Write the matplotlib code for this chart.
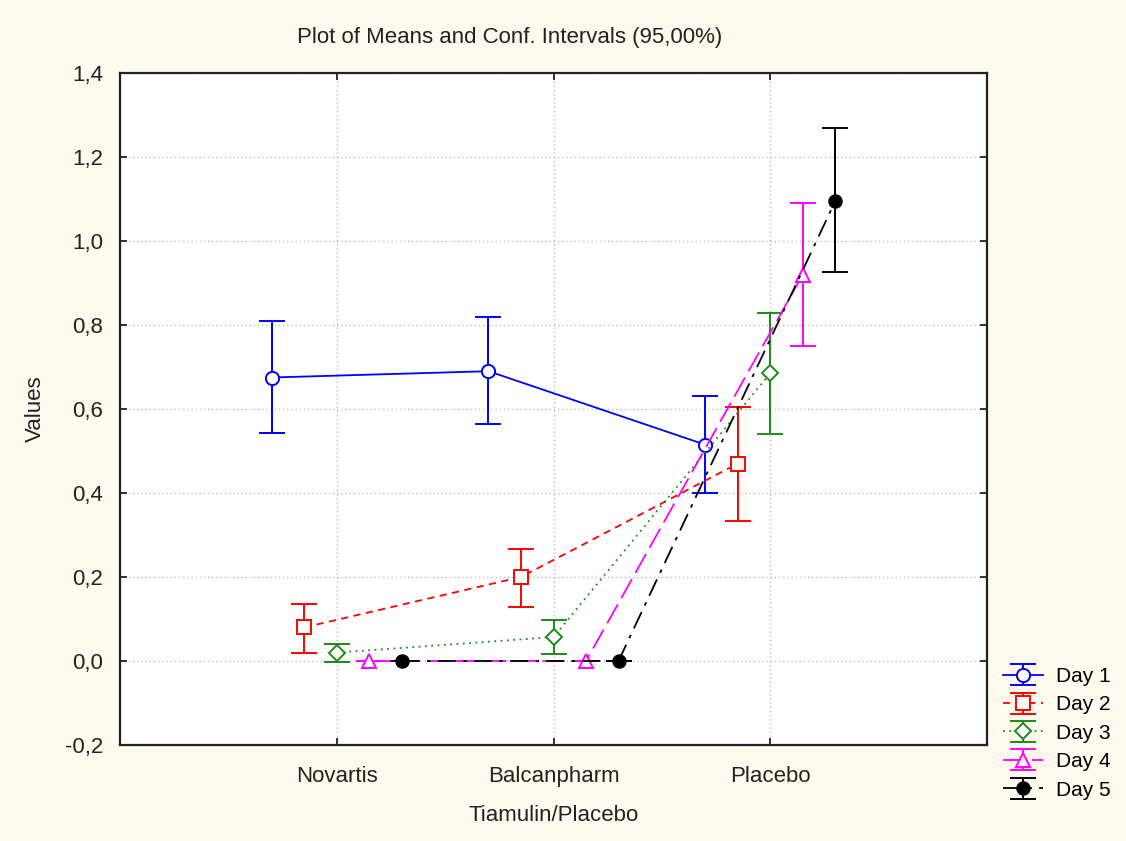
import matplotlib.pyplot as plt
import numpy as np

plt.rcParams["font.family"] = ["Liberation Sans", "DejaVu Sans"]

categories = ["Novartis", "Balcanpharm", "Placebo"]
days = ["Day 1", "Day 2", "Day 3", "Day 4", "Day 5"]

# means and 95% CI bounds per day, one value per category
means = [
    [0.675, 0.690, 0.515],
    [0.080, 0.200, 0.470],
    [0.020, 0.057, 0.685],
    [0.000, 0.000, 0.920],
    [0.000, 0.000, 1.095],
]
ci_low = [
    [0.543, 0.564, 0.400],
    [0.020, 0.128, 0.334],
    [-0.002, 0.017, 0.540],
    [0.000, 0.000, 0.750],
    [0.000, 0.000, 0.926],
]
ci_high = [
    [0.810, 0.819, 0.632],
    [0.136, 0.267, 0.605],
    [0.040, 0.098, 0.828],
    [0.000, 0.000, 1.090],
    [0.000, 0.000, 1.268],
]

colors = ["#0000ff", "#ff0000", "#1a8a1a", "#ff00ff", "#000000"]
markers = ["o", "s", "D", "^", "o"]
marker_sizes = [9.5, 9.5, 8, 9.5, 9]
face = ["white", "white", "white", "white", "#000000"]
styles = ["-", (0, (4, 3)), (0, (1, 2.5)), (0, (12, 4)), (0, (10, 4, 2, 4))]

y_ticks = [-0.2, 0.0, 0.2, 0.4, 0.6, 0.8, 1.0, 1.2, 1.4]

bg = "#fff9ee"
fig = plt.figure(figsize=(11.26, 8.41), dpi=100, facecolor=bg)
ax = fig.add_axes([120 / 1126, 1 - 745 / 841, 867 / 1126, 672 / 841])
ax.set_facecolor("white")

x = np.arange(len(categories))
offset = 0.15
for i, day in enumerate(days):
    xs = x + (i - 2) * offset
    m = np.array(means[i])
    lo = m - np.array(ci_low[i])
    hi = np.array(ci_high[i]) - m
    ax.errorbar(xs, m, yerr=[lo, hi], color=colors[i], ls=styles[i], lw=1.3,
                marker=markers[i], ms=marker_sizes[i], mfc=face[i],
                mec=colors[i], mew=1.4, capsize=9.5, capthick=1.4,
                elinewidth=1.4, label=day, zorder=3)

ax.set_xlim(-1, 3)
ax.set_ylim(-0.2, 1.4)
ax.set_xticks(x)
ax.set_xticklabels(categories, fontsize=16)
ax.set_yticks(y_ticks)
ax.set_yticklabels([f"{v:.1f}".replace(".", ",") for v in y_ticks], fontsize=16)
ax.tick_params(direction="in", length=5, width=1.3, top=True, right=True,
               colors="#222222")
ax.tick_params(axis="x", pad=15)
ax.tick_params(axis="y", pad=12)
ax.grid(True, color="#bbbbbb", ls=(0, (1, 2)), lw=1)
for sp in ax.spines.values():
    sp.set_linewidth(1.6)
    sp.set_color("#222222")

ax.set_xlabel("Tiamulin/Placebo", fontsize=16, labelpad=13, color="#222222")
ax.set_ylabel("Values", fontsize=16, labelpad=14, color="#222222")
fig.text(510 / 1126, 1 - 38 / 841, "Plot of Means and Conf. Intervals (95,00%)",
         ha="center", va="center", fontsize=16, color="#222222")

leg = ax.legend(loc="upper left", bbox_to_anchor=(1003 / 1126, 1 - 667 / 841),
                bbox_transform=fig.transFigure, frameon=False, fontsize=15,
                handlelength=1.9, labelspacing=0.45, handletextpad=0.65,
                borderaxespad=0, borderpad=0)

fig.savefig("out.png", dpi=100, facecolor=bg)
